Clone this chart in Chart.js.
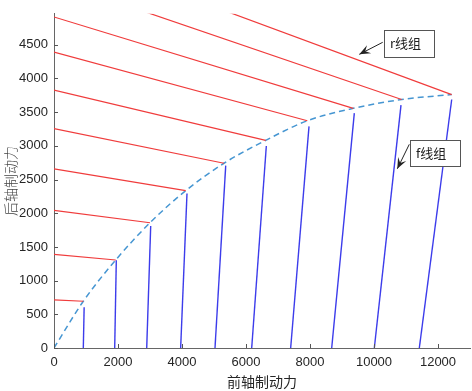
<!DOCTYPE html>
<html lang="zh-CN">
<head>
<meta charset="UTF-8">
<title>前后轴制动力分配</title>
<script src="https://cdn.jsdelivr.net/npm/chart.js"></script>
<style>
    body { margin: 0; background: #fff; }
    #chart-container { width: 472px; height: 391px; }
</style>
</head>
<body>
<div id="chart-container">
    <canvas id="brakeChart"></canvas>
</div>
<script>
// I 曲线上的点 (前轴制动力, 后轴制动力)
const iCurveX = [0, 916, 1928, 3000, 4116, 5312, 6615, 7916, 9353, 10865, 12428];
const iCurveY = [0, 694, 1306, 1859, 2335, 2742, 3082, 3373, 3557, 3688, 3761];

// r 线组: 起点在纵轴上, 终点落在 I 曲线上 (最后两条起点超出图框)
const rStartY = [713, 1389, 2044, 2660, 3256, 3828, 4392, 4913, 5451, 5942];

// f 线组: 起点在横轴上, 终点在 I 曲线附近
const fStartX = [916, 1897, 2897, 3958, 5031, 6178, 7396, 8678, 10010, 11416];
const fEndX = [942, 1947, 3022, 4156, 5366, 6635, 7969, 9385, 10844, 12428];
const fEndY = [605, 1301, 1810, 2293, 2707, 2999, 3290, 3485, 3604, 3688];

const xTicks = [0, 2000, 4000, 6000, 8000, 10000, 12000];
const yTicks = [0, 500, 1000, 1500, 2000, 2500, 3000, 3500, 4000, 4500];

// 标注 (数据坐标)
const notes = [
    { text: 'r线组', box: [10312, 4722, 11875, 4328], tail: [10272, 4537], head: [9541, 4358] },
    { text: 'f线组', box: [11125, 3086, 12687, 2699], tail: [11103, 3023], head: [10728, 2659] }
];

const datasets = [];
rStartY.forEach((y0, i) => {
    datasets.push({
        data: [{ x: 0, y: y0 }, { x: iCurveX[i + 1], y: iCurveY[i + 1] }],
        borderColor: 'rgb(240, 60, 60)',
        borderWidth: 1.2
    });
});
fStartX.forEach((x0, i) => {
    datasets.push({
        data: [{ x: x0, y: 0 }, { x: fEndX[i], y: fEndY[i] }],
        borderColor: 'rgb(60, 60, 235)',
        borderWidth: 1.4
    });
});
datasets.push({
    data: iCurveX.map((x, i) => ({ x: x, y: iCurveY[i] })),
    borderColor: 'rgb(70, 150, 210)',
    borderWidth: 1.5,
    borderDash: [6, 4],
    cubicInterpolationMode: 'monotone'
});

// 向内的刻度线
const inwardTicks = {
    id: 'inwardTicks',
    afterDatasetsDraw(chart) {
        const { ctx, chartArea, scales } = chart;
        ctx.save();
        ctx.strokeStyle = '#555';
        ctx.lineWidth = 1;
        ctx.beginPath();
        scales.x.ticks.forEach(t => {
            const px = Math.round(scales.x.getPixelForValue(t.value)) + 0.5;
            ctx.moveTo(px, chartArea.bottom);
            ctx.lineTo(px, chartArea.bottom - 4);
        });
        scales.y.ticks.forEach(t => {
            const py = Math.round(scales.y.getPixelForValue(t.value)) + 0.5;
            ctx.moveTo(chartArea.left, py);
            ctx.lineTo(chartArea.left + 4, py);
        });
        ctx.stroke();
        ctx.restore();
    }
};

// 文本框 + 箭头
const noteBoxes = {
    id: 'noteBoxes',
    afterDraw(chart) {
        const { ctx, scales: { x, y } } = chart;
        ctx.save();
        notes.forEach(n => {
            const x1 = x.getPixelForValue(n.box[0]), y1 = y.getPixelForValue(n.box[1]);
            const x2 = x.getPixelForValue(n.box[2]), y2 = y.getPixelForValue(n.box[3]);
            ctx.fillStyle = '#fff';
            ctx.fillRect(x1, y1, x2 - x1, y2 - y1);
            ctx.strokeStyle = '#555';
            ctx.lineWidth = 1;
            ctx.strokeRect(Math.round(x1) + 0.5, Math.round(y1) + 0.5, Math.round(x2 - x1), Math.round(y2 - y1));
            ctx.fillStyle = '#222';
            ctx.font = '13px "Noto Sans CJK SC", sans-serif';
            ctx.textBaseline = 'middle';
            ctx.textAlign = 'left';
            ctx.fillText(n.text, x1 + 6, (y1 + y2) / 2);

            const tx = x.getPixelForValue(n.tail[0]), ty = y.getPixelForValue(n.tail[1]);
            const hx = x.getPixelForValue(n.head[0]), hy = y.getPixelForValue(n.head[1]);
            const ang = Math.atan2(hy - ty, hx - tx);
            ctx.strokeStyle = '#222';
            ctx.beginPath();
            ctx.moveTo(tx, ty);
            ctx.lineTo(hx, hy);
            ctx.stroke();
            const len = 11, half = 4.5;
            const bx = hx - len * Math.cos(ang), by = hy - len * Math.sin(ang);
            const nx = hx - 0.6 * len * Math.cos(ang), ny = hy - 0.6 * len * Math.sin(ang);
            ctx.fillStyle = '#222';
            ctx.beginPath();
            ctx.moveTo(hx, hy);
            ctx.lineTo(bx - half * Math.sin(ang), by + half * Math.cos(ang));
            ctx.lineTo(nx, ny);
            ctx.lineTo(bx + half * Math.sin(ang), by - half * Math.cos(ang));
            ctx.closePath();
            ctx.fill();
        });
        ctx.restore();
    }
};

const tickFont = { family: '"Liberation Sans", Arial, sans-serif', size: 13 };
const titleFont = { family: '"Noto Sans CJK SC", sans-serif', size: 14 };

new Chart(document.getElementById('brakeChart'), {
    type: 'line',
    data: { datasets: datasets },
    options: {
        responsive: true,
        maintainAspectRatio: false,
        animation: false,
        layout: { padding: { top: 7, right: 2, left: 0, bottom: 0 } },
        elements: { point: { radius: 0, hoverRadius: 0 }, line: { fill: false } },
        plugins: { legend: { display: false }, tooltip: { enabled: false } },
        scales: {
            x: {
                type: 'linear',
                min: 0,
                max: 13000,
                afterBuildTicks: s => { s.ticks = xTicks.map(v => ({ value: v })); },
                afterFit: s => { s.height = 43; },
                grid: { display: true, drawOnChartArea: false, drawTicks: false },
                border: { display: true, color: '#666', width: 1 },
                ticks: { color: '#262626', font: tickFont, padding: 7, maxRotation: 0, callback: v => String(v) },
                title: { display: true, text: '前轴制动力', color: '#262626', font: titleFont, padding: { top: 0, bottom: 1 } }
            },
            y: {
                type: 'linear',
                min: 0,
                max: 4960,
                afterBuildTicks: s => { s.ticks = yTicks.map(v => ({ value: v })); },
                afterFit: s => { s.width = 54; },
                grid: { display: true, drawOnChartArea: false, drawTicks: false },
                border: { display: true, color: '#666', width: 1 },
                ticks: { color: '#262626', font: tickFont, padding: 6, callback: v => String(v) },
                title: { display: true, text: '后轴制动力', color: '#444', font: { family: '"Noto Sans CJK SC", sans-serif', size: 14, weight: 300 }, padding: { top: 2, bottom: 0 } }
            }
        }
    },
    plugins: [inwardTicks, noteBoxes]
});
</script>
</body>
</html>
